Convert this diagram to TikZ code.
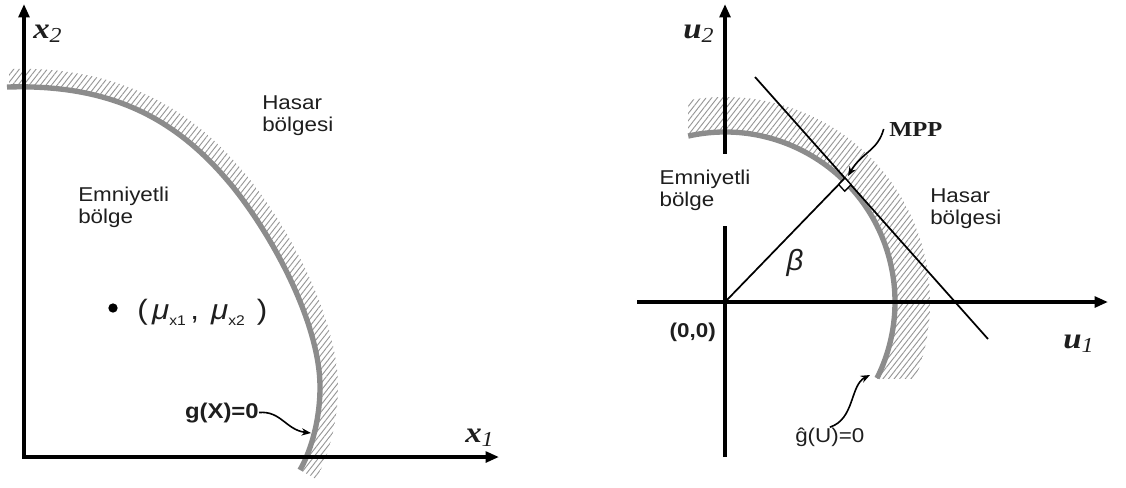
\documentclass[tikz,border=0pt]{standalone}
\usepackage{fontspec}
\setmainfont{Liberation Sans}
\newfontfamily\timesf{Liberation Serif}
\usetikzlibrary{arrows.meta,patterns.meta}
\definecolor{curvegray}{RGB}{140,140,140}
\definecolor{hatchgray}{RGB}{150,150,150}
\definecolor{inkc}{RGB}{30,30,30}
\newcommand\hstr[1]{\scalebox{1.12}[1]{#1}}
\newcommand\axlab[2]{\hstr{{\timesf\bfseries\itshape\fontsize{22}{22}\selectfont #1}\raisebox{-3pt}{\timesf\itshape\fontsize{16}{16}\selectfont #2}}}
\begin{document}
\begin{tikzpicture}[x=0.75pt,y=-0.75pt,
  region/.style={font=\fontsize{15}{16.5}\selectfont, text=inkc, align=left, inner sep=0pt},
  plain/.style={inner sep=0pt, text=inkc},
  axisline/.style={draw=black, line width=2.8pt, line join=miter},
  boundary/.style={draw=curvegray, line width=4pt},
  hatch/.style={pattern={Lines[angle=52,distance=3.3pt,line width=0.7pt]}, pattern color=hatchgray},
  thinline/.style={draw=black, line width=1.3pt},
  pointer/.style={draw=black, line width=1.2pt, -{Stealth[length=7pt,width=5.5pt]}},
  axtip/.tip={Triangle[length=10pt,width=8pt]}
]
\useasboundingbox (0,0) rectangle (1126,487);

% ---------------- left panel ----------------
\fill[hatch] (9,87) .. controls (110,84) and (176,117) .. (233,187)
  .. controls (277,242) and (320,327) .. (320,387)
  .. controls (320,417) and (312.5,448) .. (300,470)
  -- (316,479)
  .. controls (329.5,455.5) and (338,419) .. (338,387)
  .. controls (338,323) and (294,234) .. (247,176)
  .. controls (187,102) and (112,66) .. (9,69) -- cycle;
\draw[boundary] (7,87) .. controls (110,84) and (176,117) .. (233,187)
  .. controls (277,242) and (320,327) .. (320,387)
  .. controls (320,417) and (312.5,448) .. (300,470);

\coordinate (L0) at (24,457);
\coordinate (Ltop) at (24,4);
\coordinate (Lright) at (499,457);
\draw[axisline, axtip-axtip] (Ltop) -- (L0) -- (Lright);

\node[plain, anchor=base west] (x2lab) at (33,38) {\axlab{x}{2}};
\node[plain, anchor=base west] (x1lab) at (465,442) {\axlab{x}{1}};

\node[region, anchor=north west] (haL) at (262,95) {\hstr{Hasar}\\\hstr{bölgesi}};
\node[region, anchor=north west] (emL) at (78,187) {\hstr{Emniyetli}\\\hstr{bölge}};

\node[circle, fill=black, inner sep=0pt, minimum size=7pt] (mudot) at (113,308) {};
\node[plain, anchor=base west] (mulab) at (137,319) {\hstr{\fontsize{21}{21}\selectfont (\hspace{3pt}\textit{μ}\raisebox{-4.5pt}{\fontsize{10.5}{10.5}\selectfont x1}\hspace{3pt},\hspace{8pt}\textit{μ}\raisebox{-4.5pt}{\fontsize{10.5}{10.5}\selectfont x2}\hspace{8pt})}};

\node[plain, anchor=base east, font=\bfseries\fontsize{16}{16}\selectfont] (gx) at (259,418) {\hstr{g(X)=0}};
\coordinate (gTip) at (311,433);
\draw[pointer] (gx.east) .. controls +(22,-2) and +(-25,-3) .. (gTip);

% ---------------- right panel ----------------
\coordinate (O) at (725,302);
\begin{scope}
  \clip (688,0) rectangle (1126,378);
  \fill[hatch, even odd rule] (O) circle[radius=205] (O) circle[radius=170];
\end{scope}
\draw[boundary] (O) ++(-102.5:170) arc[start angle=-102.5, end angle=26.6, radius=170];

\coordinate (Rtop) at (725,4);
\coordinate (Rbot) at (725,457);
\coordinate (Rleft) at (637,302);
\coordinate (Rright) at (1108,302);
\draw[axisline, -axtip] (Rbot) -- (Rtop);
\draw[axisline, -axtip] (Rleft) -- (Rright);

\coordinate (MPPpt) at (845,178);
\coordinate (T1) at (755,77);
\coordinate (T2) at (988,339);
\draw[thinline] (T1) -- (T2);
\draw[thinline] (O) -- (MPPpt);
\draw[line width=1pt, fill=white] (MPPpt) -- ++(-6.3,6.5) -- ++(6,6.7) -- ++(6.3,-6.5) -- cycle;

\node[plain, anchor=base west] (u2lab) at (683,38) {\axlab{u}{2}};
\node[plain, anchor=base west] (u1lab) at (1063,348) {\axlab{u}{1}};

\node[region, fill=white, inner xsep=1pt, inner ysep=12pt] (emR) at (705,190) {\hstr{Emniyetli}\\\hstr{bölge}};
\node[region, anchor=north west] (haR) at (930,188) {\hstr{Hasar}\\\hstr{bölgesi}};

\node[plain, font=\itshape\fontsize{22}{22}\selectfont] (beta) at (795,263) {β};
\node[plain, anchor=base east, font=\bfseries\fontsize{15}{15}\selectfont] (orig) at (716,337) {\hstr{(0,0)}};

\node[plain, anchor=base west, font=\timesf\bfseries\fontsize{16}{16}\selectfont] (mpp) at (889,136) {\scalebox{1.15}[1]{MPP}};
\coordinate (mppTip) at (848,176);
\draw[pointer] ([xshift=-4pt]mpp.west) .. controls +(-6,22) and +(14,-24) .. (mppTip);

\node[plain, anchor=base west, font=\fontsize{15}{15}\selectfont] (ghat) at (795,442) {\hstr{ĝ(U)=0}};
\coordinate (ghatTip) at (870,375);
\draw[pointer] (ghat.north) .. controls +(25,-8) and +(-20,10) .. (ghatTip);
\end{tikzpicture}
\end{document}
